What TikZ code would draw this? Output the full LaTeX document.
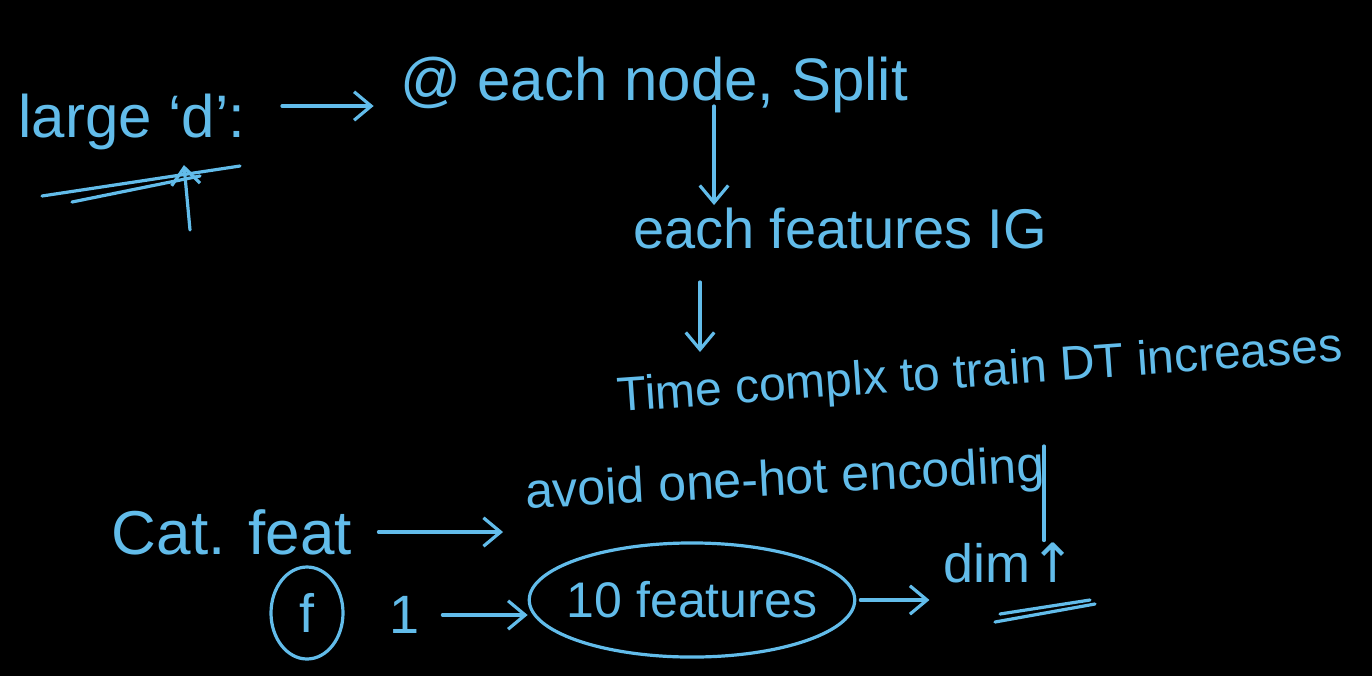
\documentclass[tikz,border=0pt]{standalone}
\usepackage{fontspec}
\setmainfont{Liberation Sans}
\newfontfamily\symfont{DejaVu Sans}
\usetikzlibrary{arrows.meta,positioning,shapes.geometric}
\definecolor{inkblue}{HTML}{62BCEA}
\definecolor{boardblack}{HTML}{000000}

\begin{document}
\begin{tikzpicture}[
  x=0.5pt, y=-0.5pt,
  font=\fontsize{27}{32}\selectfont,
  ink/.style={text=inkblue, inner sep=1pt},
  stroke/.style={draw=inkblue, line width=1.6pt, line cap=round},
  flow/.style={stroke, -{Straight Barb[length=3mm, width=5mm]}},
  ring/.style={stroke, ellipse, text=inkblue}
]
  \fill[boardblack] (0,0) rectangle (1372,676);
  \useasboundingbox (0,0) rectangle (1372,676);

  \node[ink, font=\fontsize{30}{34}\selectfont] (larged) at (132,122) {large `d':};
  \node[ink, font=\fontsize{30}{34}\selectfont] (split) at (654,85) {@ each node, Split};
  \node[ink, font=\fontsize{28}{32}\selectfont] (ig) at (840,228) {each features IG};
  \node[ink, rotate=4, font=\fontsize{24}{28}\selectfont] (time) at (980,374) {Time complx to train DT increases};
  \node[ink, rotate=3, font=\fontsize{25}{30}\selectfont] (onehot) at (785,482) {avoid one-hot encoding};
  \node[ink, font=\fontsize{31}{36}\selectfont] (cat) at (232,532) {Cat. feat};
  \node[ring, inner sep=2pt, minimum width=36pt, minimum height=46pt] (f) at (307,613) {f};
  \node[ink] (one) at (405,615) {1};
  \node[ring, inner xsep=-5pt, inner ysep=11pt, font=\fontsize{25}{30}\selectfont] (ten) at (692,600) {10 features};
  \node[ink] (dim) at (1010,563) {dim{\symfont ↑}};

  % free ends of the hand-drawn strokes
  \coordinate (larr) at (282,106);
  \coordinate (splitdn) at (714,106);
  \coordinate (igdn) at (700,282);
  \coordinate (timetop) at (700,352);
  \coordinate (encg) at (1044,446);
  \coordinate (strikea) at (42,196);
  \coordinate (strikeb) at (240,166);
  \coordinate (strikec) at (72,202);
  \coordinate (striked) at (200,176);
  \coordinate (uptail) at (190,230);
  \coordinate (uphead) at (184,165);
  \coordinate (ulinea) at (995,622);
  \coordinate (ulineb) at (1095,604);
  \coordinate (ulinec) at (1000,614);
  \coordinate (ulined) at (1090,600);

  \draw[flow, shorten >=12pt] (larr) -- (larr -| split.west);
  \draw[flow] (splitdn) -- (ig.north -| splitdn);
  \draw[flow] (igdn) -- (timetop);
  \draw[flow, shorten <=12pt, shorten >=10pt] (cat.east) -- (cat.east -| onehot.west);
  \draw[flow, shorten <=10pt] (one.east) -- (one.east -| ten.west);
  \draw[flow, shorten <=2pt, shorten >=6pt] (ten.east) -- (ten.east -| dim.west);
  \draw[stroke] (encg) -- (encg |- dim.north);

  \draw[stroke] (strikea) -- (strikeb);
  \draw[stroke] (strikec) -- (striked);
  \draw[flow] (uptail) -- (uphead);
  \draw[stroke] (ulinea) -- (ulineb);
  \draw[stroke] (ulinec) -- (ulined);
\end{tikzpicture}
\end{document}
